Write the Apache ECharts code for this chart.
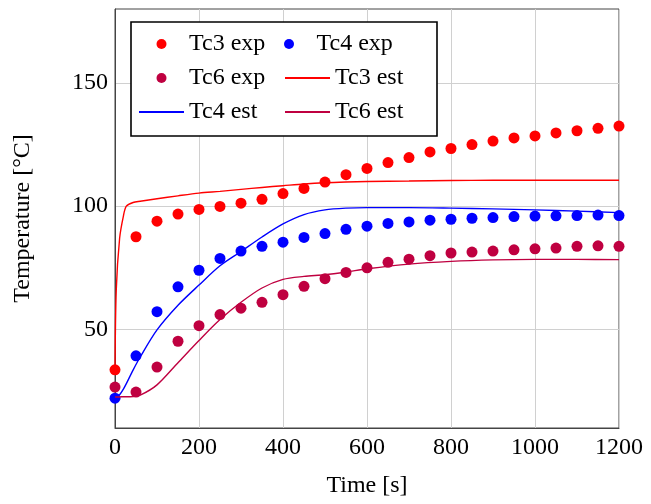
<!DOCTYPE html>
<html>
<head>
<meta charset="utf-8">
<script src="https://cdn.jsdelivr.net/npm/echarts@6/dist/echarts.min.js"></script>
<style>
html,body{margin:0;padding:0;background:#fff;}
#c{width:651px;height:504px;}
</style>
</head>
<body>
<div id="c"></div>
<script>
// ---- data ----
const expTime = [0,50,100,150,200,250,300,350,400,450,500,550,600,650,700,750,800,850,900,950,1000,1050,1100,1150,1200];
const tc3Exp = [33.6,87.6,93.9,96.8,98.7,99.9,101.2,102.8,105.1,107.2,109.8,112.8,115.3,117.7,119.7,122,123.4,125,126.4,127.7,128.5,129.7,130.6,131.6,132.5];
const tc4Exp = [22.1,39.3,57.2,67.3,74,78.8,81.8,83.7,85.4,87.3,88.9,90.6,91.9,93,93.6,94.3,94.7,95.1,95.4,95.8,96,96.1,96.2,96.4,96.2];
const tc6Exp = [26.6,24.6,34.7,45.2,51.5,56,58.6,61,64.1,67.5,70.6,73.1,75,77.2,78.5,79.9,81,81.4,81.8,82.3,82.7,83,83.7,83.9,83.7];

const estTime = [0,3,11,20,27,43,60,100,150,200,250,300,350,400,450,500,550,600,700,800,900,1000,1100,1200];
const tc3Est = [33.5,66,87,96,100,101.5,102,103,104.2,105.3,106,106.8,107.6,108.3,109,109.5,109.8,110,110.2,110.4,110.5,110.5,110.5,110.5];
const tc4Est = [22.6,22.6,23.5,25.8,28,33.5,38.8,49.8,59.8,68,75.8,81.6,87.5,92.8,96.6,98.5,99.2,99.4,99.4,99.2,98.9,98.5,98,97.4];
const tc6Est = [22.6,22.6,22.6,22.7,22.7,22.8,23.3,27.5,36.5,45.5,54,61,66.8,70.3,71.5,72.2,73.3,74.6,76.5,77.6,78.2,78.4,78.4,78.3];

const xTicks = [0,200,400,600,800,1000,1200];
const yTicks = [50,100,150];

const names = ['Tc3 exp','Tc4 exp','Tc6 exp','Tc3 est','Tc4 est','Tc6 est'];
const RED = '#ff0000', BLUE = '#0000ff', PURP = '#bf0040';
const FONT = 'Liberation Serif';

const pairs = (t, v) => t.map((x, i) => [x, v[i]]);

const chart = echarts.init(document.getElementById('c'), null, {renderer: 'canvas'});

function scatter(name, color, vals) {
  return {name, type: 'scatter', data: pairs(expTime, vals), symbol: 'circle', symbolSize: 11,
          itemStyle: {color, opacity: 1}, z: 2};
}
function line(name, color, vals) {
  return {name, type: 'line', data: pairs(estTime, vals), symbol: 'none', smooth: 0.3,
          lineStyle: {color, width: 1.4}, itemStyle: {color}, z: 3};
}

const legendData = names.map((n, i) => i < 3 ? {name: n} : {name: n, itemStyle: {opacity: 0}});

chart.setOption({
  animation: false,
  backgroundColor: '#fff',
  textStyle: {fontFamily: FONT, color: '#000'},
  grid: {left: 115, right: 32, top: 9, bottom: 76, show: true, borderColor: '#444', borderWidth: 1, containLabel: false},
  legend: {
    data: legendData,
    left: 131, top: 22,
    width: 292,
    orient: 'horizontal',
    padding: [10, 17, 12, 7],
    itemGap: 10,
    itemWidth: 45, itemHeight: 10,
    symbolKeepAspect: true,
    borderColor: '#000', borderWidth: 1.6,
    backgroundColor: '#fff',
    textStyle: {fontFamily: FONT, fontSize: 24, color: '#000', width: 85, lineHeight: 22},
    selectedMode: false,
    z: 10
  },
  xAxis: {
    type: 'value', min: 0, max: 1200, interval: 200,
    name: 'Time [s]', nameLocation: 'middle', nameGap: 46,
    nameTextStyle: {fontFamily: FONT, fontSize: 24, color: '#000'},
    axisLine: {show: true, lineStyle: {color: '#444', width: 1}},
    axisTick: {show: false},
    axisLabel: {fontFamily: FONT, fontSize: 24, color: '#000', margin: 8,
                customValues: xTicks, formatter: v => String(v)},
    splitLine: {show: true, lineStyle: {color: '#d0d0d0', width: 1}}
  },
  yAxis: {
    type: 'value', min: 10, max: 180,
    name: 'Temperature [\u00B0C]', nameLocation: 'middle', nameGap: 80,
    nameTextStyle: {fontFamily: FONT, fontSize: 24, color: '#000'},
    axisLine: {show: true, lineStyle: {color: '#444', width: 1}},
    axisTick: {show: false, customValues: yTicks},
    axisLabel: {fontFamily: FONT, fontSize: 24, color: '#000', margin: 7,
                customValues: yTicks, formatter: v => String(v)},
    splitLine: {show: true, lineStyle: {color: '#d0d0d0', width: 1}}
  },
  series: [
    scatter(names[0], RED, tc3Exp),
    scatter(names[1], BLUE, tc4Exp),
    scatter(names[2], PURP, tc6Exp),
    line(names[3], RED, tc3Est),
    line(names[4], BLUE, tc4Est),
    line(names[5], PURP, tc6Est)
  ]
});
</script>
</body>
</html>
